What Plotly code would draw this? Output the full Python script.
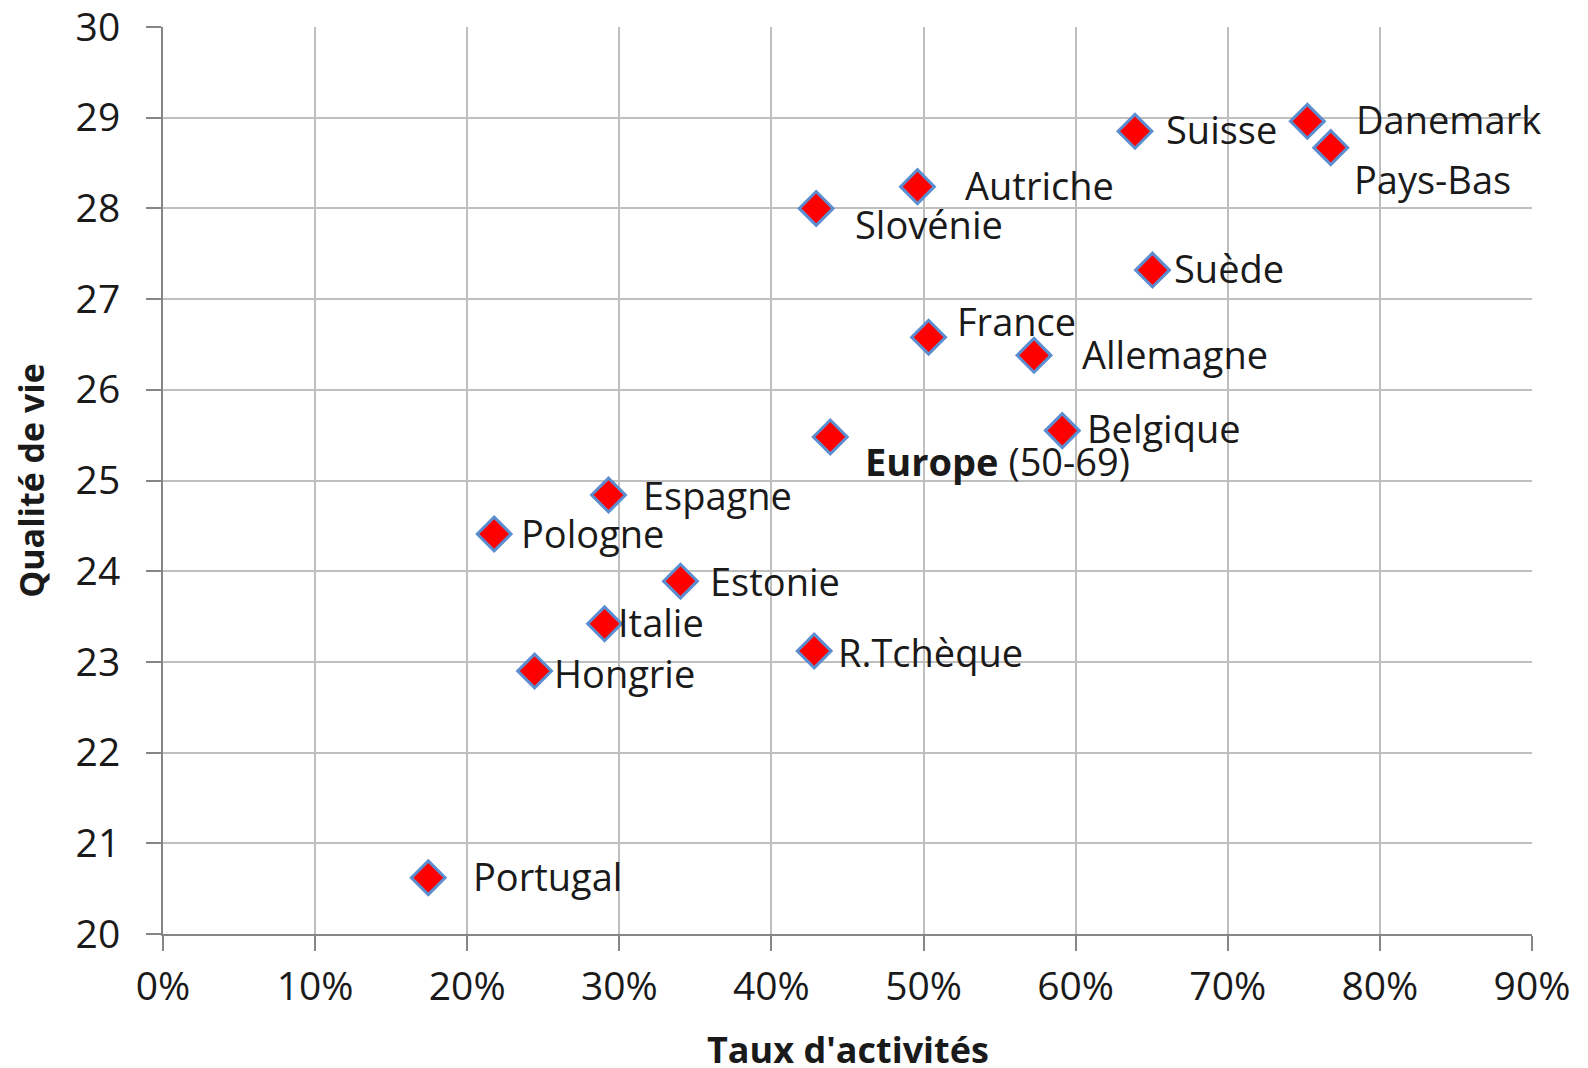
import plotly.graph_objects as go

countries = ["Portugal", "Pologne", "Hongrie", "Italie", "Espagne", "Estonie", "R.Tchèque",
             "Slovénie", "Europe", "Autriche", "France", "Allemagne", "Belgique", "Suisse",
             "Suède", "Danemark", "Pays-Bas"]
taux = [0.1744, 0.2177, 0.2443, 0.2903, 0.2929, 0.3402, 0.4281,
        0.4294, 0.4387, 0.4960, 0.5033, 0.5726, 0.5912, 0.6390,
        0.6505, 0.7523, 0.7677]
qualite = [20.62, 24.41, 22.90, 23.42, 24.84, 23.89, 23.12,
           28.00, 25.48, 28.24, 26.58, 26.38, 25.55, 28.85,
           27.32, 28.96, 28.67]
labels = {c: c for c in countries}
labels["Europe"] = "<b>Europe</b> (50-69)"
x_title = "<b>Taux d'activités</b>"
y_title = "<b>Qualité de vie</b>"

# label offsets in pixels (dx right, dy down)
offsets = {
    "Portugal": (42, -2), "Pologne": (25, -1), "Hongrie": (17, 2), "Italie": (11, -2),
    "Espagne": (32, 0), "Estonie": (27, 0), "R.Tchèque": (22, 1), "Slovénie": (36, 15),
    "Europe": (32, 24), "Autriche": (45, -2), "France": (26, -16), "Allemagne": (45, -1),
    "Belgique": (22, -3), "Suisse": (29, -2), "Suède": (19, -2), "Danemark": (46, -2),
    "Pays-Bas": (21, 31),
}

font_family = "Open Sans"
fs = 38
sc = 1588 / 1568

fig = go.Figure()
fig.add_trace(go.Scatter(
    x=taux, y=qualite, mode="markers",
    marker=dict(symbol="diamond", size=26, color="#FF0000",
                line=dict(color="#5B8ED0", width=3)),
    hoverinfo="skip", showlegend=False,
))

for c, xv, yv in zip(countries, taux, qualite):
    dx, dy = offsets[c]
    fig.add_annotation(x=xv, y=yv, xref="x", yref="y", text=labels[c],
                       showarrow=False, xanchor="left", yanchor="middle",
                       xshift=dx * sc, yshift=-dy * sc,
                       font=dict(family=font_family, size=fs, color="#1a1a1a"))

# x-axis title (placed as annotation so it can sit low like in the original)
fig.add_annotation(x=0.5, y=-0.127, xref="paper", yref="paper", text=x_title,
                   showarrow=False, xanchor="center", yanchor="middle",
                   font=dict(family=font_family, size=36, color="#1a1a1a"))

axis_common = dict(
    showgrid=True, gridcolor="#BFBFBF", gridwidth=2,
    showline=True, linecolor="#868686", linewidth=2,
    ticks="outside", ticklen=15, tickwidth=2, tickcolor="#868686",
    tickfont=dict(family=font_family, size=39, color="#1a1a1a"),
    zeroline=False, automargin=False, ticklabeloverflow="allow",
)

fig.update_layout(
    width=1580, height=1060,
    margin=dict(l=155, r=56, t=19, b=134),
    plot_bgcolor="white", paper_bgcolor="white",
    xaxis=dict(range=[0, 0.9], dtick=0.1, tickformat=".0%",
               ticklabelstandoff=2, **axis_common),
    yaxis=dict(range=[20, 30], dtick=1, ticklabelstandoff=18,
               title=dict(text=y_title, standoff=22,
                          font=dict(family=font_family, size=34, color="#1a1a1a")),
               **axis_common),
)

fig.write_html("out.html")
